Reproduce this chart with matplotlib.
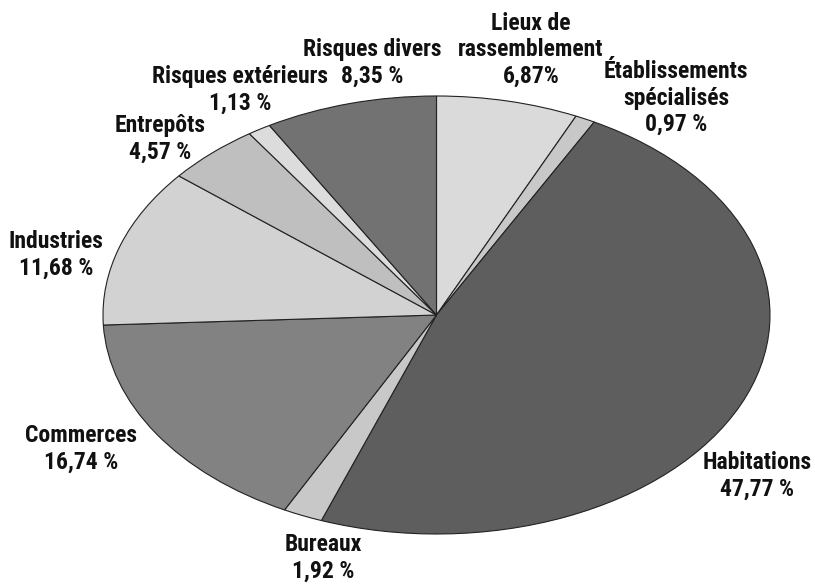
import numpy as np
import matplotlib.pyplot as plt
from matplotlib import font_manager as fm

# parts clockwise from 12 o'clock
categories = ["Lieux de\nrassemblement", "Établissements\nspécialisés", "Habitations",
              "Bureaux", "Commerces", "Industries", "Entrepôts",
              "Risques extérieurs", "Risques divers"]
shares = [6.87, 0.97, 47.77, 1.92, 16.74, 11.68, 4.57, 1.13, 8.35]
share_txt = ["6,87%", "0,97 %", "47,77 %", "1,92 %", "16,74 %", "11,68 %",
             "4,57 %", "1,13 %", "8,35 %"]

greys = ["#dadada", "#c8c8c8", "#5e5e5e", "#c8c8c8", "#828282",
         "#d2d2d2", "#bfbfbf", "#dcdcdc", "#727272"]

# label centres in pixels (x, y from top)
label_px = [(531, 50), (676, 98), (757, 476), (323, 558), (81, 449),
            (56, 255), (160, 139), (240, 90), (372, 63)]


def pick_font(cands):
    for c in cands:
        try:
            fm.findfont(fm.FontProperties(family=c, weight="bold"),
                        fallback_to_default=False)
            return c
        except Exception:
            pass
    return "DejaVu Sans"


narrow = pick_font(["Roboto Condensed", "Archivo Narrow", "PT Sans Narrow",
                    "Fira Sans Condensed", "Sofia Sans Condensed",
                    "Saira SemiCondensed", "Liberation Sans Narrow"])

W, H = 815, 588
fig = plt.figure(figsize=(W / 100, H / 100), dpi=100)
# the pie is squashed into an ellipse by the axes box
x0, x1, y0, y1 = 103, 770, 96, 534
ax = fig.add_axes([x0 / W, (H - y1) / H, (x1 - x0) / W, (y1 - y0) / H])
ax.pie(shares, colors=greys, startangle=90, counterclock=False,
       wedgeprops=dict(edgecolor="#222222", linewidth=0.8))
ax.set_aspect("auto")
ax.set_xlim(-1, 1)
ax.set_ylim(-1, 1)
ax.axis("off")

for name, txt, (px, py) in zip(categories, share_txt, label_px):
    fig.text(px / W, 1 - py / H, f"{name}\n{txt}", ha="center", va="center",
             multialignment="center", fontsize=17, fontweight="bold",
             family=[narrow, "DejaVu Sans"], linespacing=1.2, color="#111111")

fig.savefig("out.png", dpi=100)
